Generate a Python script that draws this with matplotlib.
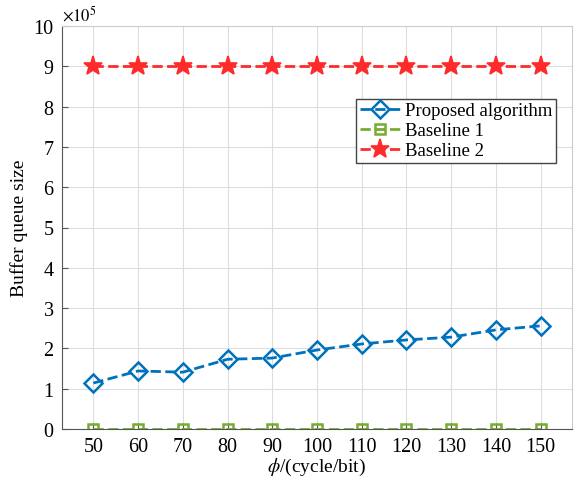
import matplotlib.pyplot as plt

plt.rcParams['font.family'] = 'Liberation Serif'
plt.rcParams['mathtext.fontset'] = 'stix'

phi = [50, 60, 70, 80, 90, 100, 110, 120, 130, 140, 150]
proposed = [1.14, 1.44, 1.41, 1.73, 1.76, 1.96, 2.11, 2.21, 2.28, 2.46, 2.56]
baseline1 = [0, 0, 0, 0, 0, 0, 0, 0, 0, 0, 0]
baseline2 = [9, 9, 9, 9, 9, 9, 9, 9, 9, 9, 9]

fig = plt.figure(figsize=(5.78, 4.81), dpi=100)
ax = fig.add_axes([62 / 578, 51 / 481, 510 / 578, 403 / 481])

ax.plot(phi, proposed, '--', color='#0072BD', lw=2, marker='D', ms=9,
        mfc='none', mew=1.8, label='Proposed algorithm')
ax.plot(phi, baseline1, '--', color='#77AC30', lw=2, marker='s', ms=7,
        mfc='none', mew=1.8, label='Baseline 1')
ax.plot(phi, baseline2, '--', color='#FF2A2A', lw=2, marker='*', ms=14,
        mfc='#FF2A2A', mec='#FF2A2A', mew=1.2, label='Baseline 2')

ax.set_xlim(43, 157)
ax.set_ylim(0, 10)
ax.set_xticks(phi)
ax.set_yticks(range(0, 11))
ax.tick_params(labelsize=14.5, direction='in', length=4, color='#555555', pad=6)
ax.grid(True, color='#dddddd', lw=0.8)
for s in ['top', 'right']:
    ax.spines[s].set_color('#cccccc')
for s in ['left', 'bottom']:
    ax.spines[s].set_color('#555555')

ax.set_xlabel(r'$\phi$/(cycle/bit)', fontsize=14, labelpad=0)
ax.set_ylabel('Buffer queue size', fontsize=14)
ax.text(0.0, 1.005, r'$\times10^5$', transform=ax.transAxes, fontsize=12,
        ha='left', va='bottom')

leg = ax.legend(loc='upper right', bbox_to_anchor=(0.968, 0.82), fontsize=13.5,
                fancybox=False, framealpha=1, edgecolor='#444444',
                handlelength=2.2, borderpad=0.2, labelspacing=0.15,
                handletextpad=0.2, borderaxespad=0.0)
leg.get_frame().set_linewidth(1.0)

fig.savefig('out.png', dpi=100)
